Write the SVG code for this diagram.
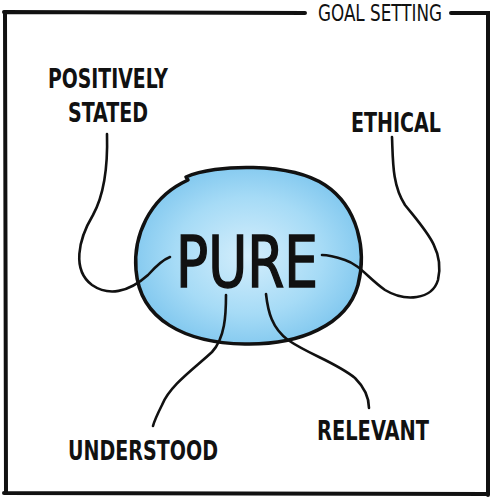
<svg xmlns="http://www.w3.org/2000/svg" width="492" height="500" viewBox="0 0 492 500">
<defs>
<radialGradient id="blue" cx="0.5" cy="0.5" r="0.55">
<stop offset="0" stop-color="#d4eefc"/>
<stop offset="0.6" stop-color="#a6dbf6"/>
<stop offset="1" stop-color="#7ec6ee"/>
</radialGradient>
<style>
.frame{fill:none;stroke:#111;stroke-width:4;stroke-linecap:round}
.conn{fill:none;stroke:#111;stroke-width:2.6;stroke-linecap:round}
.lbl{font-family:"DejaVu Sans Condensed","Liberation Sans",sans-serif;font-weight:bold;fill:#111;text-anchor:middle}
.thin{font-weight:normal}
</style>
</defs>
<rect width="492" height="500" fill="#fff"/>
<g id="frame">
<path class="frame" d="M4 12 L305 13 M451 13 L488 13 L488 495 M4 493 L488 494 M5 12 L6 493"/>
<text class="lbl thin" x="380" y="21" font-size="23" textLength="124" lengthAdjust="spacingAndGlyphs">GOAL SETTING</text>
</g>
<g id="pure">
<path d="M186 177 C215 164 290 162 325 185 C358 207 367 250 358 285 C347 325 300 345 245 344 C185 343 140 320 136 270 C133 235 150 200 182 183 L188 180 Z" fill="url(#blue)" stroke="#111" stroke-width="3.5" stroke-linejoin="round"/>
<text class="lbl thin" x="247" y="287" font-size="72" textLength="142" lengthAdjust="spacingAndGlyphs" stroke="#111" stroke-width="1.5">PURE</text>
</g>
<g id="connectors">
<path class="conn" d="M107 134 C108 170 104 195 93 215 C78 240 72 270 92 285 C108 296 128 293 148 275 C156 266 162 260 170 257"/>
<path class="conn" d="M392 137 C393 160 392 185 405 205 C425 230 445 250 438 280 C432 300 405 302 385 290 C368 278 360 265 345 260 C336 257 330 255 322 255"/>
<path class="conn" d="M226 295 C226 315 225 338 212 352 C195 368 170 385 162 405 C157 415 154 422 153 426"/>
<path class="conn" d="M266 294 C268 312 272 328 288 340 C310 355 335 362 355 378 C367 390 369 400 369 408"/>
</g>
<g id="positively">
<text class="lbl" x="108" y="88" font-size="26" textLength="120" lengthAdjust="spacingAndGlyphs">POSITIVELY</text>
<text class="lbl" x="108" y="122" font-size="26" textLength="80" lengthAdjust="spacingAndGlyphs">STATED</text>
</g>
<g id="ethical">
<text class="lbl" x="396" y="132" font-size="26" textLength="90" lengthAdjust="spacingAndGlyphs">ETHICAL</text>
</g>
<g id="understood">
<text class="lbl" x="143" y="460" font-size="27" textLength="150" lengthAdjust="spacingAndGlyphs">UNDERSTOOD</text>
</g>
<g id="relevant">
<text class="lbl" x="373" y="440" font-size="27" textLength="112" lengthAdjust="spacingAndGlyphs">RELEVANT</text>
</g>
</svg>
